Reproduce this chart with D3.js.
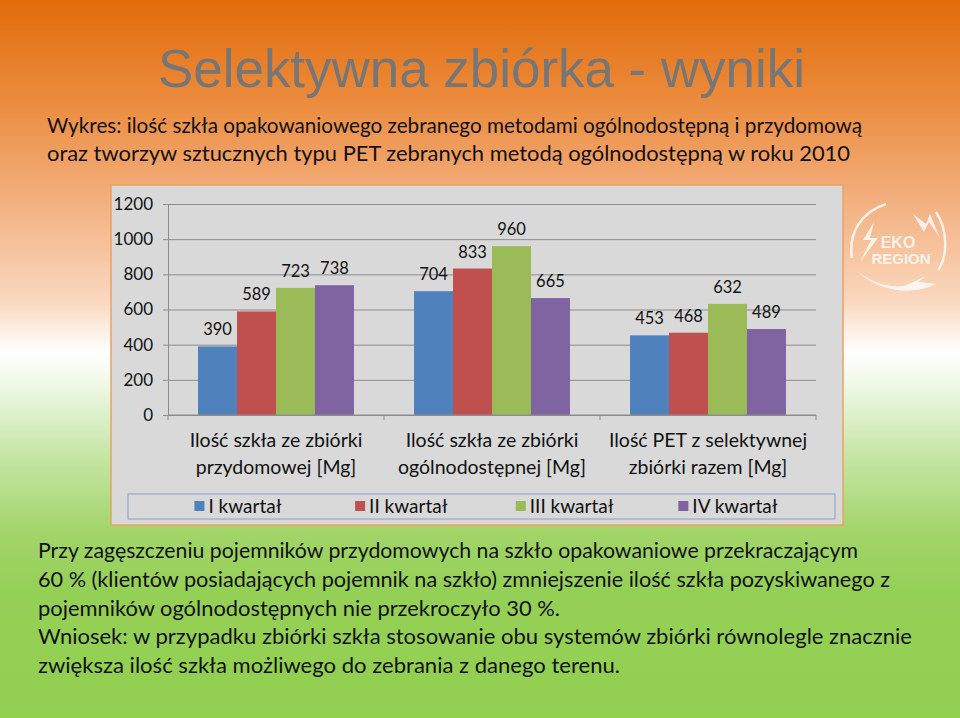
<!DOCTYPE html>
<html><head><meta charset="utf-8">
<script src="https://cdn.jsdelivr.net/npm/d3@7"></script>
<style>body{margin:0;background:#fff;} svg{display:block;}</style>
</head><body><svg id="c" width="960" height="718"></svg>
<script>
// ---- data ----
const categories = ["przydomowa", "ogolnodostepna", "pet"];
const categoryLabels = [
  ["Ilość szkła ze zbiórki", "przydomowej [Mg]"],
  ["Ilość szkła ze zbiórki", "ogólnodostępnej [Mg]"],
  ["Ilość PET z selektywnej", "zbiórki razem [Mg]"]
];
const seriesNames = ["I kwartał", "II kwartał", "III kwartał", "IV kwartał"];
const q1 = [390, 704, 453];
const q2 = [589, 833, 468];
const q3 = [723, 960, 632];
const q4 = [738, 665, 489];
const yTicks = [0, 200, 400, 600, 800, 1000, 1200];
const seriesColors = ["#4f81bd", "#c0504d", "#9bbb59", "#8064a2"];
const titleText = "Selektywna zbiórka - wyniki";
const subtitleLines = [
  "Wykres: ilość szkła opakowaniowego zebranego metodami ogólnodostępną i przydomową",
  "oraz tworzyw sztucznych typu PET zebranych metodą ogólnodostępną w roku 2010"
];
const noteLines = [
  "Przy zagęszczeniu pojemników przydomowych na szkło opakowaniowe przekraczającym",
  "60 % (klientów posiadających pojemnik na szkło) zmniejszenie ilość szkła pozyskiwanego z",
  "pojemników ogólnodostępnych nie przekroczyło 30 %.",
  "Wniosek: w przypadku zbiórki szkła stosowanie obu systemów zbiórki równolegle znacznie",
  "zwiększa ilość szkła możliwego do zebrania z danego terenu."
];

const seriesValues = [q1, q2, q3, q4];
const svg = d3.select("#c");
const W = 960, H = 718;

// ---- background gradient ----
const defs = svg.append("defs");
const bg = defs.append("linearGradient").attr("id", "bg").attr("x1", 0).attr("y1", 0).attr("x2", 0).attr("y2", 1);
[[0, "#e36c09"], [0.14, "#eb8b3d"], [0.28, "#f3b07f"], [0.42, "#fad8bf"], [0.49, "#ffffff"],
 [0.54, "#eef7e4"], [0.64, "#c4e5a2"], [0.74, "#a2d56a"], [0.82, "#95d056"], [1, "#92d050"]]
  .forEach(([o, c]) => bg.append("stop").attr("offset", o).attr("stop-color", c));
svg.append("rect").attr("width", W).attr("height", H).attr("fill", "url(#bg)");

const sans = "Lato, 'Open Sans', sans-serif";

// ---- title ----
svg.append("text").attr("x", 158).attr("y", 87)
  .attr("textLength", 647).attr("lengthAdjust", "spacingAndGlyphs")
  .style("font-family", "'Liberation Sans', Arial, sans-serif").style("font-size", "54px")
  .attr("fill", "#767676").text(titleText);

// ---- subtitle ----
const subW = [815, 803];
subtitleLines.forEach((t, i) => {
  svg.append("text").attr("x", 47).attr("y", 133 + i * 28)
    .attr("textLength", subW[i]).attr("lengthAdjust", "spacingAndGlyphs")
    .style("font-family", sans).style("font-size", "21px").attr("fill", "#111").text(t);
});

// ---- chart box ----
svg.append("rect").attr("x", 111).attr("y", 185).attr("width", 732).attr("height", 340)
  .attr("fill", "#d9d9d9").attr("stroke", "#f0a060").attr("stroke-width", 1.5);

const plot = {left: 168, right: 816, top: 204, bottom: 415};
const x0 = d3.scaleBand().domain(categories).range([plot.left, plot.right])
  .paddingInner(0.278).paddingOuter(0.139);
const x1 = d3.scaleBand().domain(seriesNames).range([0, x0.bandwidth()]);
const y = d3.scaleLinear().domain([0, 1200]).range([plot.bottom, plot.top]);

// gridlines
const grid = svg.append("g").attr("transform", `translate(${plot.left},0)`)
  .call(d3.axisLeft(y).tickValues(yTicks).tickSize(-(plot.right - plot.left)).tickFormat(""));
grid.select(".domain").remove();
grid.selectAll("line").attr("stroke", "#8c8c8c");

// y axis
const ya = svg.append("g").attr("transform", `translate(${plot.left},0)`)
  .call(d3.axisLeft(y).tickValues(yTicks).tickSize(5).tickPadding(10).tickFormat(d3.format("d")));
ya.select(".domain").attr("stroke", "#8c8c8c");
ya.selectAll("line").attr("stroke", "#8c8c8c");
ya.selectAll("text").style("font-family", sans).style("font-size", "17px").attr("fill", "#111");

// bars
const gBars = svg.append("g");
categories.forEach((c, ci) => {
  seriesNames.forEach((s, si) => {
    const v = seriesValues[si][ci];
    gBars.append("rect")
      .attr("x", x0(c) + x1(s)).attr("y", y(v))
      .attr("width", x1.bandwidth()).attr("height", y(0) - y(v))
      .attr("fill", seriesColors[si]);
    gBars.append("text")
      .attr("x", x0(c) + x1(s) + x1.bandwidth() / 2).attr("y", y(v) - 11)
      .attr("text-anchor", "middle")
      .style("font-family", sans).style("font-size", "16.5px").attr("fill", "#111").text(v);
  });
});

// category axis
const xa = svg.append("g");
xa.append("line").attr("x1", plot.left).attr("x2", plot.right).attr("y1", y(0)).attr("y2", y(0)).attr("stroke", "#8c8c8c");
d3.range(categories.length + 1).forEach(i => {
  const bx = plot.left + i * x0.step();
  xa.append("line").attr("x1", bx).attr("x2", bx).attr("y1", y(0)).attr("y2", y(0) + 5).attr("stroke", "#8c8c8c");
});
categories.forEach((c, ci) => {
  categoryLabels[ci].forEach((t, li) => {
    xa.append("text").attr("x", x0(c) + x0.bandwidth() / 2).attr("y", 447 + li * 27)
      .attr("text-anchor", "middle")
      .style("font-family", sans).style("font-size", "19.5px").attr("fill", "#111").text(t);
  });
});

// legend
svg.append("rect").attr("x", 128).attr("y", 494).attr("width", 707).attr("height", 25)
  .attr("fill", "none").attr("stroke", "#93a8cf").attr("stroke-width", 1.2);
const lx = d3.scalePoint().domain(seriesNames).range([238, 728]);
seriesNames.forEach((s, si) => {
  const g = svg.append("g");
  const t = g.append("text").attr("y", 513)
    .style("font-family", sans).style("font-size", "19px").attr("fill", "#111").text(s);
  const tw = t.node().getComputedTextLength();
  const total = 10 + 4 + tw;
  const sx = lx(s) - total / 2;
  g.append("rect").attr("x", sx).attr("y", 501).attr("width", 10).attr("height", 10).attr("fill", seriesColors[si]);
  t.attr("x", sx + 14);
});

// notes
const noteW = [820, 852, 522, 874, 582];
noteLines.forEach((t, i) => {
  svg.append("text").attr("x", 38).attr("y", 558 + i * 28.8)
    .attr("textLength", noteW[i]).attr("lengthAdjust", "spacingAndGlyphs")
    .style("font-family", sans).style("font-size", "21px").attr("fill", "#111").text(t);
});

// logo (EKO REGION)
const logo = svg.append("g").attr("opacity", 0.8);
logo.append("path").attr("d", "M852,258 C848,232 862,212 886,204")
  .attr("fill", "none").attr("stroke", "#fff").attr("stroke-width", 2.5);
logo.append("path").attr("d", "M874,222 L863,240 L871,240 L860,262 L878,238 L870,238 Z").attr("fill", "#fff");
logo.append("path").attr("d", "M913,214 L924,232 L929,222 L940,238 L930,214 L926,224 Z").attr("fill", "#fff");
logo.append("path").attr("d", "M936,212 C948,230 948,256 938,270")
  .attr("fill", "none").attr("stroke", "#fff").attr("stroke-width", 2.5);
logo.append("path").attr("d", "M858,272 C880,292 912,296 936,284 L918,282 L926,276 L904,286 C888,288 872,282 858,272 Z").attr("fill", "#fff");
logo.append("text").attr("x", 898).attr("y", 248).attr("text-anchor", "middle")
  .style("font-family", "'Liberation Sans', Arial, sans-serif").style("font-weight", "bold").style("font-size", "16px")
  .attr("fill", "#fff").text("EKO");
logo.append("text").attr("x", 901).attr("y", 264).attr("text-anchor", "middle")
  .style("font-family", "'Liberation Sans', Arial, sans-serif").style("font-weight", "bold").style("font-size", "15px")
  .attr("fill", "#fff").text("REGION");
</script>
</body></html>
